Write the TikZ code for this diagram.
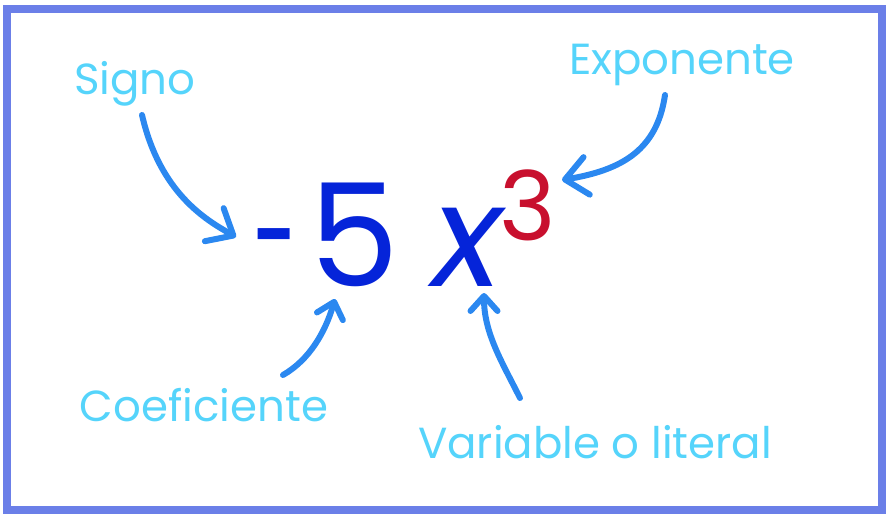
\documentclass[tikz,border=0pt]{standalone}
\usepackage{fontspec}
\setmainfont{Poppins}
\usetikzlibrary{arrows.meta}
\definecolor{framecol}{HTML}{6B7FE8}
\definecolor{tagcol}{HTML}{55D4FB}
\definecolor{arrcol}{HTML}{2B88F0}
\definecolor{exprcol}{HTML}{0524D9}
\definecolor{expocol}{HTML}{C8102E}
\begin{document}
\begin{tikzpicture}[x=1pt,y=-1pt,
  tagtext/.style={text=tagcol, font=\fontsize{43.5}{50}\selectfont, inner sep=0pt},
  bigglyph/.style={text=exprcol, font=\fontsize{143}{160}\selectfont, inner sep=0pt},
  expglyph/.style={text=expocol, font=\fontsize{96}{110}\selectfont, inner sep=0pt},
  pointer/.style={draw=arrcol, line width=6pt, line cap=round},
  bigtip/.style={-{Straight Barb[length=22pt,width=38pt,round]}},
  smalltip/.style={-{Straight Barb[length=15pt,width=27pt,round]}}]
\useasboundingbox (0,0) rectangle (891,522);
\draw[framecol, line width=8pt] (7,9) rectangle (881.5,510);
% labels
\node[tagtext] (signo) at (135,83.5) {Signo};
\node[tagtext] (expon) at (682,65) {Exponente};
\node[tagtext] (coef) at (204,405) {Coeficiente};
\node[tagtext] (var) at (595,442) {Variable o literal};
% expression
\node[bigglyph, anchor=north, xscale=0.56] (minus) at (275.5,228) {-};
\node[bigglyph] (five) at (354.5,235) {5};
\node[bigglyph, font=\fontsize{143}{160}\selectfont\itshape] (xvar) at (467.5,247.5) {x};
\node[expglyph] (three) at (527.5,205.5) {3};
% arrow ends
\coordinate (s1) at (142,115);
\coordinate (t1) at (236,237);
\coordinate (s2) at (665,95);
\coordinate (t2) at (562,180);
\coordinate (s3) at (283,375);
\coordinate (t3) at (335,299);
\coordinate (s4) at (520,398);
\coordinate (t4) at (484,293);
\draw[pointer, bigtip] (s1) .. controls (160,193) and (206,220) .. (t1);
\draw[pointer, bigtip] (s2) .. controls (657,150) and (622,170) .. (t2);
\draw[pointer, smalltip] (s3) .. controls (309,360) and (325,333) .. (t3);
\draw[pointer, smalltip] (s4) .. controls (502,362) and (484,333) .. (t4);
\end{tikzpicture}
\end{document}
